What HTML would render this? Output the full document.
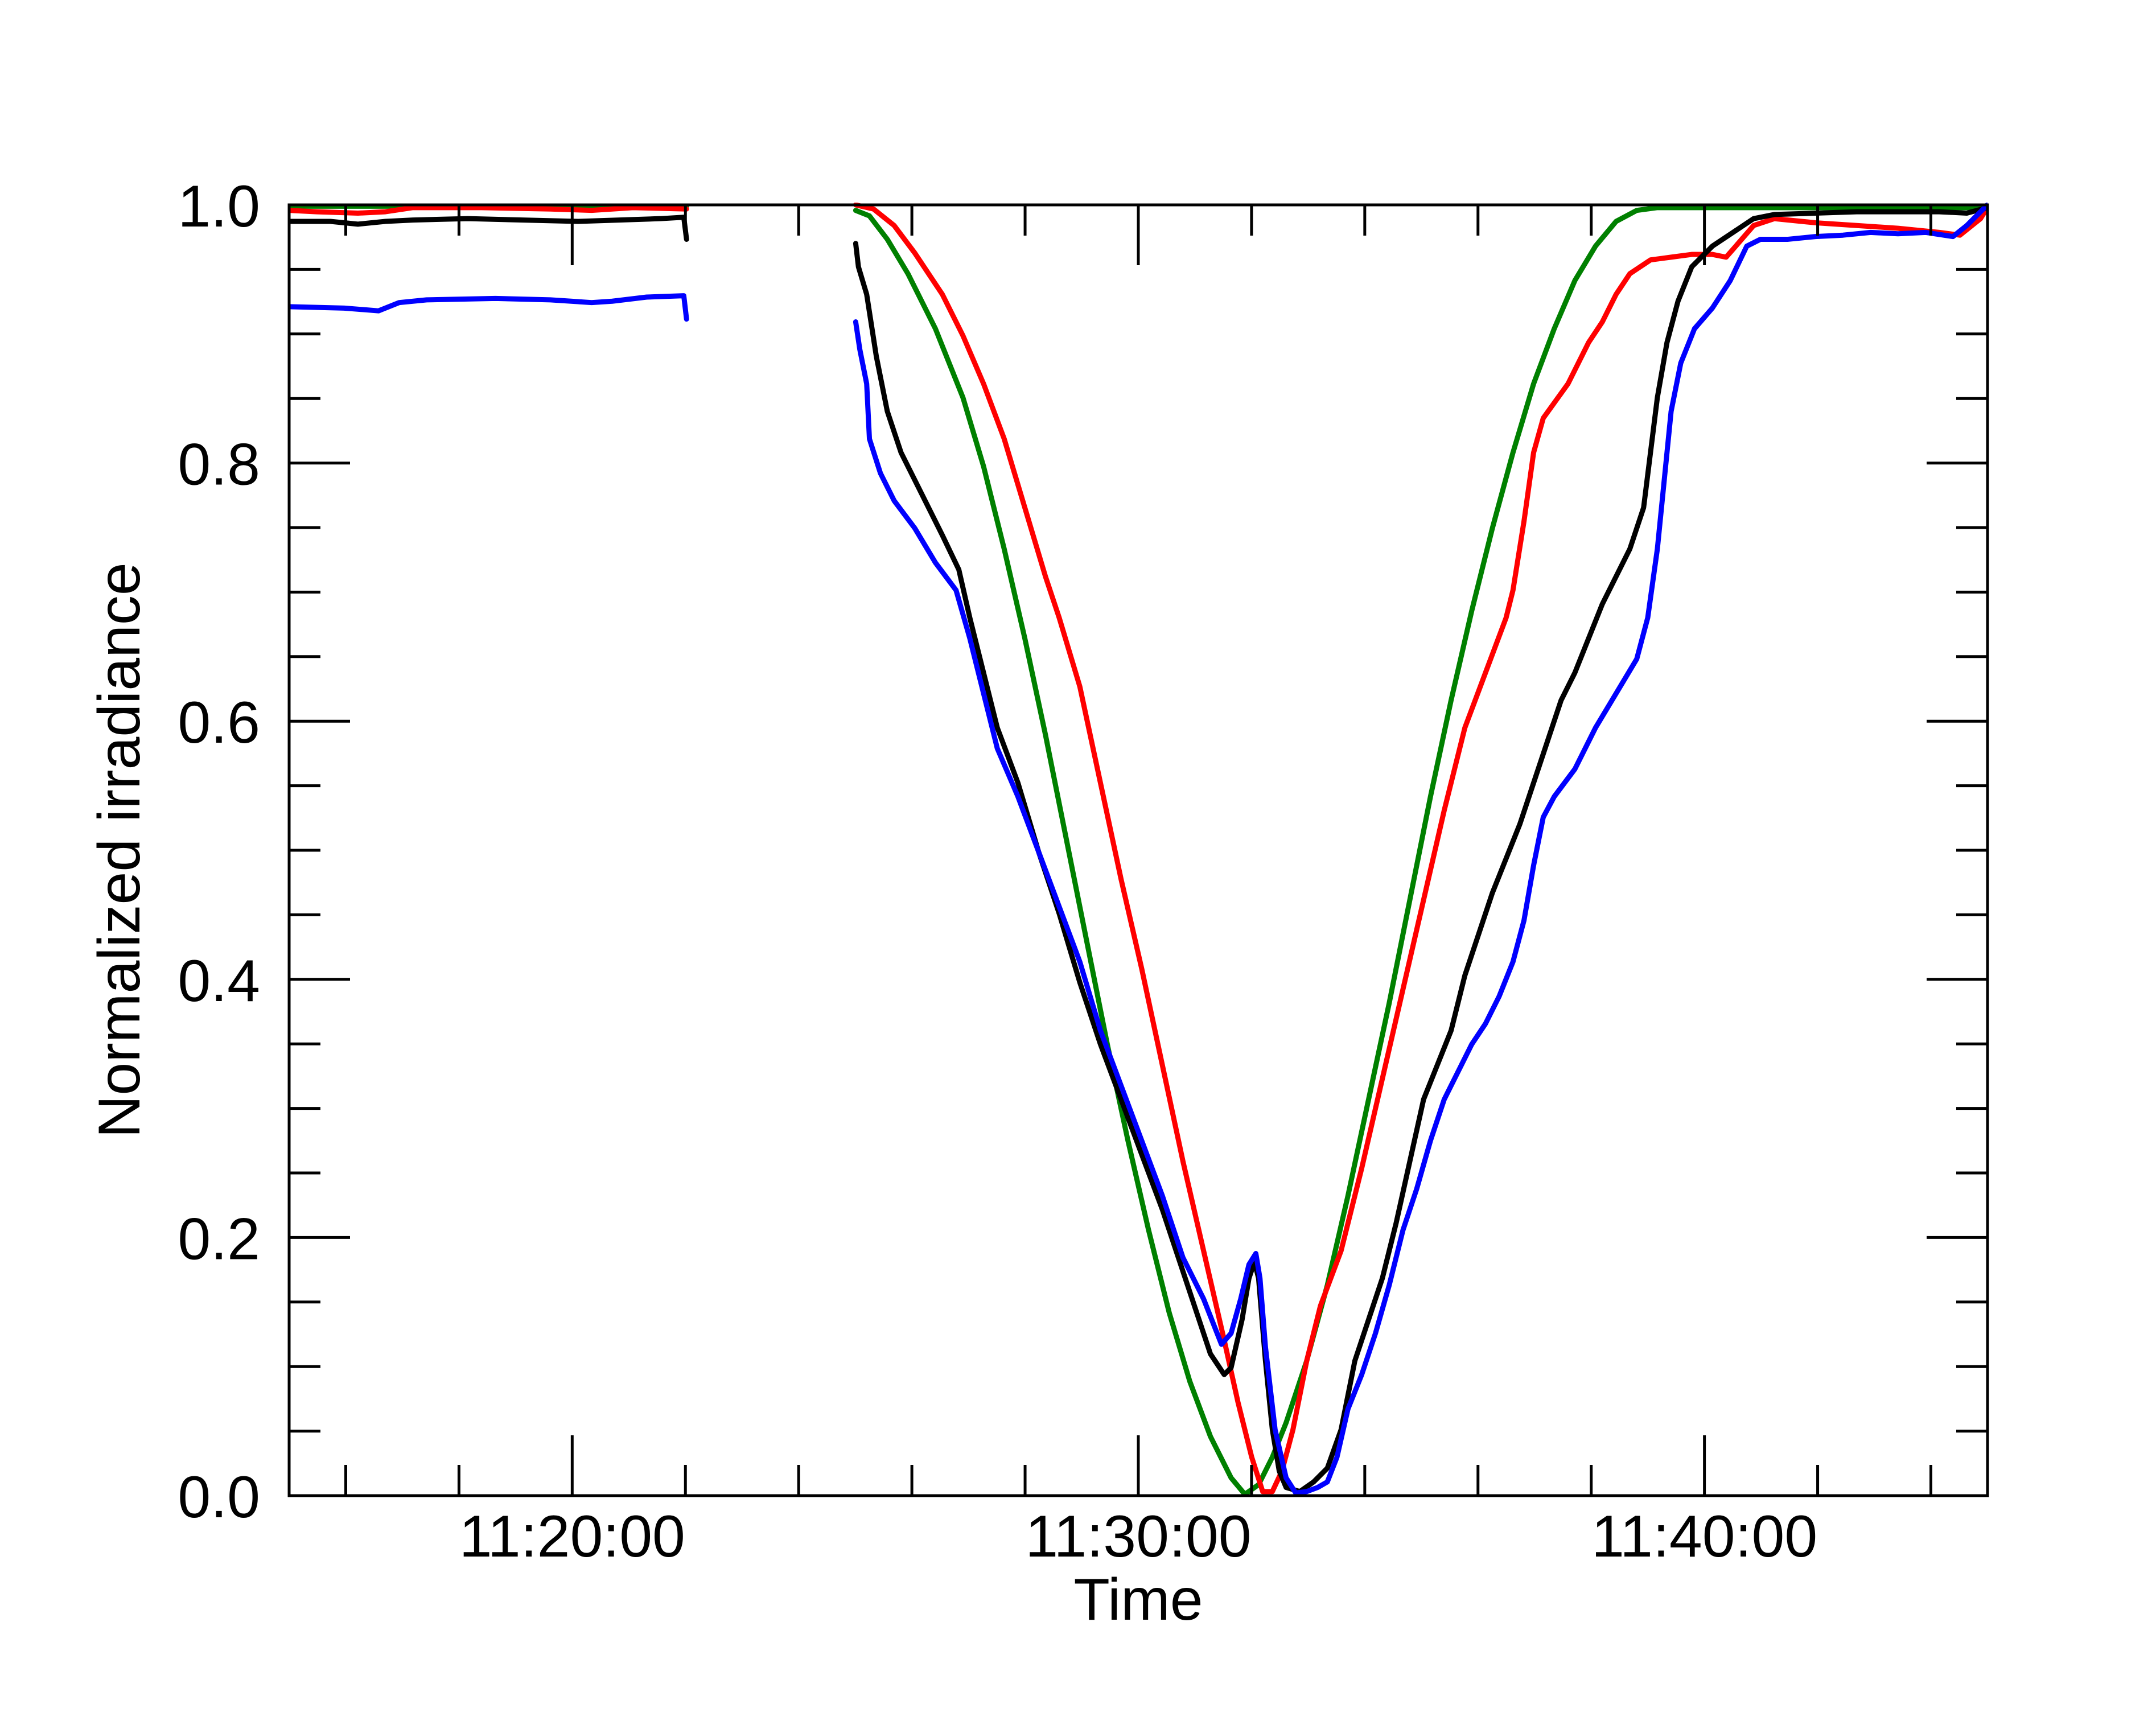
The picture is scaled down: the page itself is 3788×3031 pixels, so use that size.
<!DOCTYPE html>
<html><head><meta charset="utf-8"><style>
html,body{margin:0;padding:0;background:#fff}
svg{display:block}
text{font-family:"Liberation Sans",sans-serif;fill:#000}
</style></head><body>
<svg width="3788" height="3031" viewBox="0 0 3788 3031" xmlns="http://www.w3.org/2000/svg">
<rect width="3788" height="3031" fill="#fff"/>
<defs><clipPath id="c"><rect x="508" y="356" width="2984" height="2276"/></clipPath></defs>
<g clip-path="url(#c)">
<g transform="translate(508,360) scale(2.416,2.418) translate(-210,-150)" fill="none" stroke-linejoin="round" stroke-linecap="round">
<polyline vector-effect="non-scaling-stroke" stroke="#008000" stroke-width="9" points="210,151 499,151"/>
<polyline vector-effect="non-scaling-stroke" stroke="#ff0000" stroke-width="9" points="210,154 230,155 260,156 280,155 300,152 350,152 400,153 430,154 460,152 499,153"/>
<polyline vector-effect="non-scaling-stroke" stroke="#000" stroke-width="9" points="210,162 240,162 260,164 280,162 300,161 340,160 380,161 420,162 450,161 480,160 497,159 499,175"/>
<polyline vector-effect="non-scaling-stroke" stroke="#0000ff" stroke-width="9" points="210,224 250,225 275,227 290,221 310,219 360,218 400,219 430,221 445,220 470,217 497,216 499,233"/>
<polyline vector-effect="non-scaling-stroke" stroke="#008000" stroke-width="9" points="622,154 632,158 645,175 660,200 680,240 700,290 715,340 730,400 745,465 760,535 775,610 790,685 805,760 820,830 835,895 850,955 865,1005 880,1045 895,1075 905,1087 915,1080 925,1060 935,1035 950,990 965,935 980,870 995,800 1010,730 1025,655 1040,580 1055,510 1070,445 1085,385 1100,330 1115,280 1130,240 1145,205 1160,180 1175,162 1190,154 1205,152 1250,152 1445,152"/>
<polyline vector-effect="non-scaling-stroke" stroke="#ff0000" stroke-width="9" points="622,150 635,153 650,165 665,185 685,215 700,245 715,280 730,320 745,370 760,420 770,450 785,500 800,570 815,640 830,705 845,775 860,845 875,910 890,975 900,1020 910,1060 918,1085 925,1085 932,1070 940,1040 950,990 960,950 975,910 990,850 1005,785 1020,720 1035,655 1050,590 1065,530 1080,490 1095,450 1100,430 1108,380 1115,330 1122,305 1140,280 1155,250 1165,235 1175,215 1185,200 1200,190 1215,188 1230,186 1245,186 1255,188 1262,180 1275,165 1290,160 1320,163 1350,165 1380,167 1410,170 1425,172 1440,160 1445,152"/>
<polyline vector-effect="non-scaling-stroke" stroke="#000" stroke-width="9" points="622,178 624,195 630,215 637,260 645,300 655,330 670,360 685,390 697,415 705,450 715,490 725,530 740,570 755,620 770,665 785,715 800,760 815,800 830,840 845,880 860,925 870,955 880,985 890,1000 895,995 903,960 908,930 912,918 915,930 920,990 925,1040 930,1070 935,1082 945,1085 955,1078 965,1068 975,1040 985,990 995,960 1005,930 1015,890 1025,845 1035,800 1045,775 1055,750 1065,710 1075,680 1085,650 1095,625 1105,600 1115,570 1125,540 1135,510 1145,490 1155,465 1165,440 1175,420 1185,400 1195,370 1200,330 1205,290 1212,250 1220,220 1230,195 1245,180 1260,170 1275,160 1290,157 1320,156 1350,155 1380,155 1410,155 1430,156 1445,152"/>
<polyline vector-effect="non-scaling-stroke" stroke="#0000ff" stroke-width="9" points="622,235 625,255 630,280 632,320 640,345 650,365 665,385 680,410 695,430 705,465 715,505 725,545 740,580 755,620 770,660 785,700 800,750 815,790 830,830 845,870 860,915 875,945 888,978 895,970 902,945 908,920 913,912 916,930 920,980 927,1040 935,1075 942,1086 950,1085 958,1082 965,1078 972,1060 980,1025 990,1000 1000,970 1010,935 1020,895 1030,865 1040,830 1050,800 1060,780 1070,760 1080,745 1090,725 1100,700 1108,670 1115,630 1122,595 1130,580 1145,560 1160,530 1175,505 1190,480 1198,450 1205,400 1210,350 1215,300 1222,265 1232,240 1245,225 1258,205 1270,180 1280,175 1300,175 1320,173 1340,172 1360,170 1380,171 1400,170 1420,173 1430,165 1445,150"/>
</g>
</g>
<rect x="508" y="360" width="2984" height="2268" fill="none" stroke="#000" stroke-width="5"/>
<g stroke="#000" stroke-width="5" id="ticks"></g>
<g id="labels"></g>
<text x="2000" y="2846" font-size="104" text-anchor="middle">Time</text>
<text transform="translate(245,1494) rotate(-90)" font-size="104" text-anchor="middle">Normalized irradiance</text>
</svg>
<script>
(function(){
var ns="http://www.w3.org/2000/svg",t=document.getElementById("ticks"),l=document.getElementById("labels");
function ln(x1,y1,x2,y2){var e=document.createElementNS(ns,"line");e.setAttribute("x1",x1);e.setAttribute("y1",y1);e.setAttribute("x2",x2);e.setAttribute("y2",y2);t.appendChild(e);}
function tx(x,y,s,a){var e=document.createElementNS(ns,"text");e.setAttribute("x",x);e.setAttribute("y",y);e.setAttribute("font-size","104");e.setAttribute("text-anchor",a);e.textContent=s;l.appendChild(e);}
for(var i=0;i<=20;i++){var y=2628-i*113.4;var L=(i%4==0)?107:55;ln(508,y,508+L,y);ln(3492,y,3492-L,y);
 if(i%4==0)tx(457,y+38,(i*0.05).toFixed(1),"end");}
for(var k=0;k<15;k++){var x=508+99.47+k*198.93;var maj=((k-2)%5==0);var L=maj?106:54;ln(x,2628,x,2628-L);ln(x,360,x,360+L);
 if(maj){var m=20+(k-2)*2;tx(x,2735,"11:"+m+":00","middle");}}
})();
</script>
</body></html>
